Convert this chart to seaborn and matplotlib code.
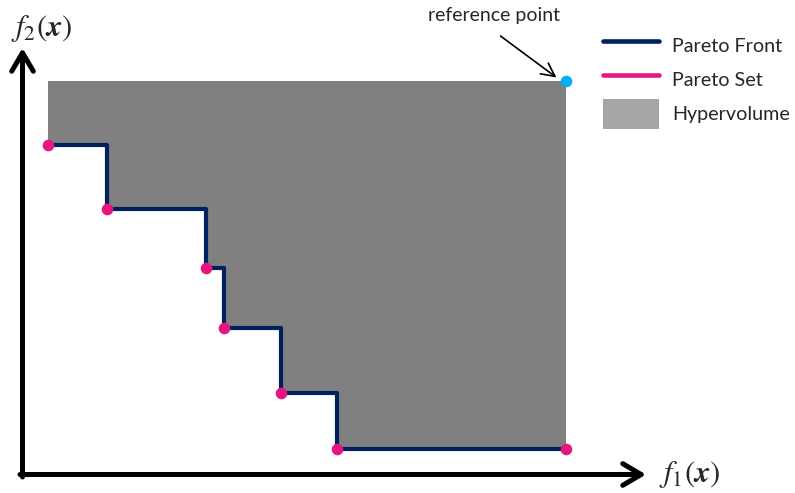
import matplotlib
matplotlib.use("Agg")
import matplotlib.pyplot as plt
import seaborn as sns
from matplotlib.lines import Line2D
from matplotlib.patches import Patch

# Pareto-Punkte (f1, f2) und Referenzpunkt
front_f1 = [2.5, 8.4, 18.3, 20.1, 25.8, 31.4, 54.3]
front_f2 = [33.0, 26.6, 20.7, 14.7, 8.2, 2.6, 2.6]
ref_f1 = [54.3]
ref_f2 = [39.4]

legend_labels = ["Pareto Front", "Pareto Set", "Hypervolume"]

navy = "#002060"
pink = "#E5167F"
cyan = "#00B0F0"

sns.set_theme(style="white")
plt.rcParams['font.family'] = ['Lato', 'DejaVu Sans']
plt.rcParams['mathtext.fontset'] = 'stix'

fig = plt.figure(figsize=(7.95, 4.93), dpi=100)
ax = fig.add_axes([0, 0, 1, 1])
ax.set_xlim(-2.25, 77.25)
ax.set_ylim(-1.85, 47.45)
ax.axis('off')

# Hypervolumen: Fläche zwischen Front und Referenzpunkt
ax.fill_between(front_f1, front_f2, ref_f2[0], step='post', color='#808080', lw=0, zorder=1)

# Front als Treppenlinie
sns.lineplot(x=front_f1, y=front_f2, drawstyle='steps-post', sort=False,
             color=navy, lw=3, ax=ax, zorder=2)

# Pareto Set + Referenzpunkt
sns.scatterplot(x=front_f1, y=front_f2, color=pink, s=70, linewidth=0, ax=ax, zorder=3)
sns.scatterplot(x=ref_f1, y=ref_f2, color=cyan, s=70, linewidth=0, ax=ax, zorder=3)

# Achsenpfeile
arrow = dict(arrowstyle='->, head_length=1.1, head_width=0.65', lw=3.6, color='black',
             shrinkA=0, shrinkB=0)
ax.annotate('', xy=(0, 42.65), xytext=(0, -0.25), arrowprops=arrow)
ax.annotate('', xy=(62.35, 0), xytext=(-0.25, 0), arrowprops=arrow)

ax.text(1.9, 44.65, r'$f_2(\boldsymbol{x})$', fontsize=22, ha='center', va='center')
ax.text(66.75, 0, r'$f_1(\boldsymbol{x})$', fontsize=22, ha='center', va='center')

# Beschriftung Referenzpunkt
ax.text(47.2, 45.9, 'reference point', fontsize=14, ha='center', va='center')
ax.annotate('', xy=(53.4, 39.7), xytext=(47.8, 43.85),
            arrowprops=dict(arrowstyle='->, head_length=0.8, head_width=0.4', lw=1.2,
                            color='black', shrinkA=0, shrinkB=0))

# Legende rechts oben
handles = [Line2D([], [], color=navy, lw=3.3),
           Line2D([], [], color=pink, lw=3.3),
           Patch(facecolor='#A6A6A6', edgecolor='none')]
ax.legend(handles, legend_labels, loc='upper left', bbox_to_anchor=(0.7585, 0.938),
          frameon=False, fontsize=14.2, borderpad=0, borderaxespad=0,
          handlelength=2.85, handleheight=1.92, labelspacing=0.25, handletextpad=0.65)

fig.savefig('out.png', dpi=100)
